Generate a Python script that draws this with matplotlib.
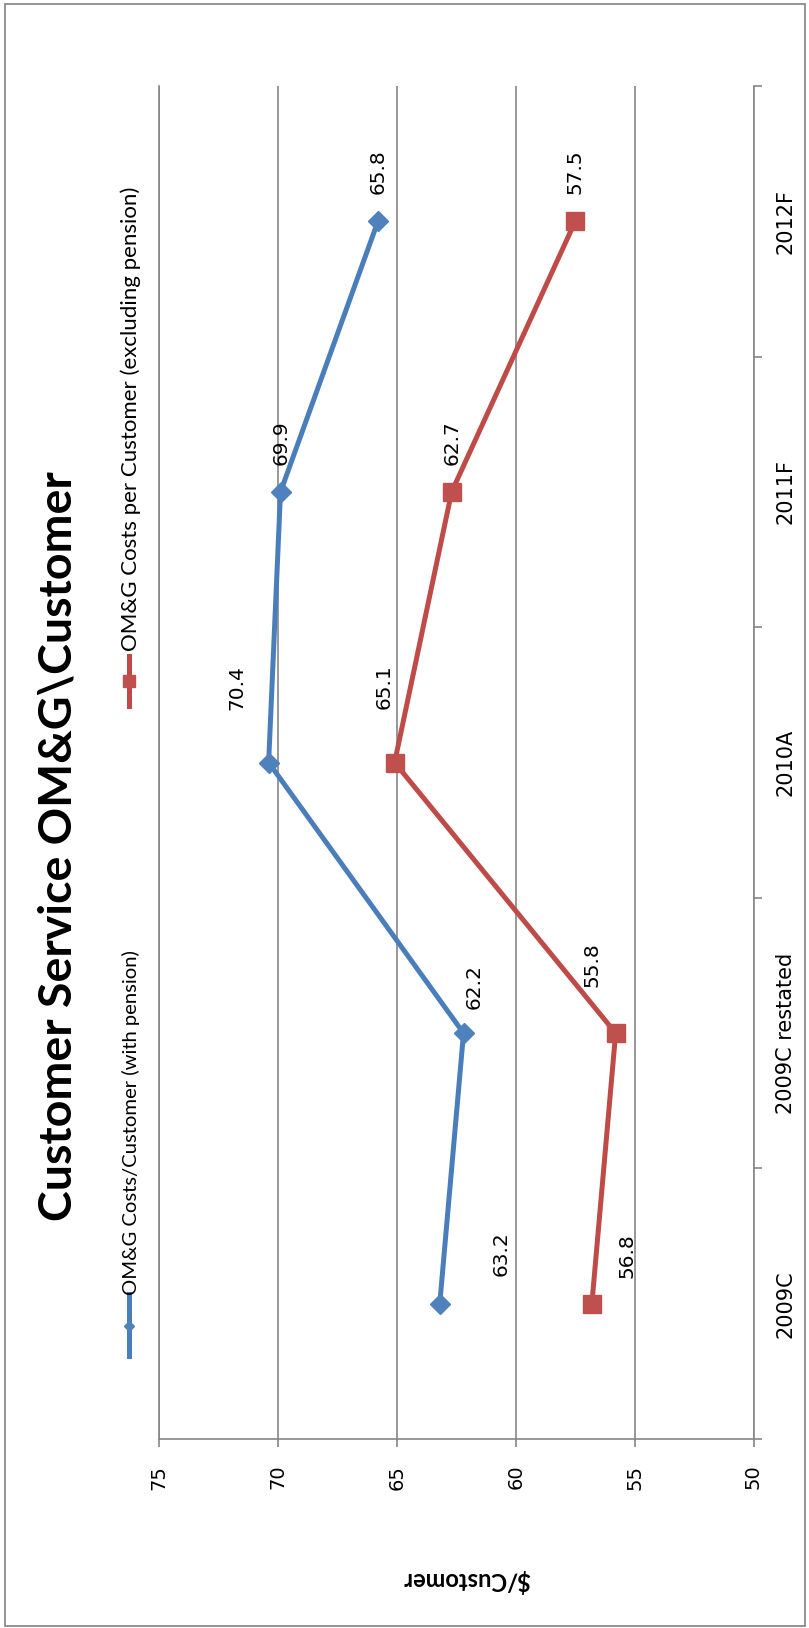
import matplotlib
matplotlib.use('Agg')
import matplotlib.pyplot as plt
from matplotlib.lines import Line2D
from matplotlib.patches import Rectangle

# picture is an Excel line chart turned on its side (values run right->left)
W, H, DPI = 809, 1628, 100

categories = ['2009C', '2009C restated', '2010A', '2011F', '2012F']
with_pension = [63.2, 62.2, 70.4, 69.9, 65.8]
excl_pension = [56.8, 55.8, 65.1, 62.7, 57.5]
value_ticks = [75, 70, 65, 60, 55, 50]

# where each data label sits relative to its marker, px (right, down)
with_offsets = [(61, -50), (11, -47), (-32, -75), (1, -49), (0, -50)]
excl_offsets = [(35, -48), (-24, -68), (-10, -76), (0, -49), (0, -50)]

BLUE_LINE, BLUE_FILL = '#4A7EBB', '#4F81BD'
RED_LINE, RED_FILL = '#BE4B48', '#C0504D'
GRID = '#868686'
CAL = ['Lato', 'DejaVu Sans']


def fx(px):
    return px / W


def fy(py):
    return 1 - py / H


fig = plt.figure(figsize=(W / DPI, H / DPI), dpi=DPI)
ax = fig.add_axes([fx(159.3), fy(1439), (753.5 - 159.3) / W, (1439 - 86) / H])

pos = list(range(len(categories)))
ax.plot(with_pension, pos, color=BLUE_LINE, lw=3.6, marker='D', ms=10,
        mfc=BLUE_FILL, mec=BLUE_FILL, zorder=3, clip_on=False)
ax.plot(excl_pension, pos, color=RED_LINE, lw=3.6, marker='s', ms=13.5,
        mfc=RED_FILL, mec=RED_FILL, zorder=3, clip_on=False)

for vals, offs in ((with_pension, with_offsets), (excl_pension, excl_offsets)):
    for i, (v, (dx, dy)) in enumerate(zip(vals, offs)):
        ax.annotate(f'{v:.1f}', (v, i), xytext=(dx, -dy), textcoords='offset pixels',
                    rotation=90, ha='center', va='center', fontsize=14.5, family='DejaVu Sans')

ax.set_xlim(75, 50)
ax.set_ylim(-0.5, len(categories) - 0.5)
ax.set_xticks(value_ticks)
ax.set_xticklabels([str(v) for v in value_ticks], family='DejaVu Sans')
ax.grid(axis='x', color=GRID, lw=1.2)
ax.set_axisbelow(True)
ax.tick_params(axis='x', direction='out', length=5.5, width=1.2, color=GRID,
               labelrotation=90, labelsize=14, pad=13)

ax.set_yticks([i - 0.5 for i in range(len(categories) + 1)])
ax.set_yticklabels([])
ax.set_yticks(pos, minor=True)
ax.set_yticklabels(categories, minor=True, rotation=90, va='center', family='DejaVu Sans')
ax.tick_params(axis='y', which='major', direction='out', length=5.5, width=1.2, color=GRID,
               left=False, right=True, labelleft=False)
ax.tick_params(axis='y', which='minor', length=0, left=False, right=True,
               labelleft=False, labelright=True, labelsize=15, pad=16)

ax.spines['top'].set_visible(False)
for s in ('left', 'right', 'bottom'):
    ax.spines[s].set_color(GRID)
    ax.spines[s].set_linewidth(1.2)

# legend, drawn by hand since it is turned too
fig.add_artist(Line2D([fx(129), fx(129)], [fy(1294), fy(1356)], color=BLUE_LINE, lw=3.6))
fig.add_artist(Line2D([fx(129)], [fy(1326)], marker='D', ms=5.5, color=BLUE_FILL))
fig.add_artist(Line2D([fx(129), fx(129)], [fy(656), fy(706)], color=RED_LINE, lw=3.6))
fig.add_artist(Line2D([fx(129)], [fy(681)], marker='s', ms=8, color=RED_FILL))

leg1 = fig.text(fx(137), fy(1295), 'OM&G Costs/Customer (with pension)', rotation=90,
                rotation_mode='anchor', ha='left', va='baseline', family=CAL, fontsize=15)
leg2 = fig.text(fx(137), fy(651), 'OM&G Costs per Customer (excluding pension)', rotation=90,
                rotation_mode='anchor', ha='left', va='baseline', family=CAL, fontsize=15)
title = fig.text(fx(72), fy(846), 'Customer Service OM&G\\Customer', rotation=90,
                 rotation_mode='anchor', ha='center', va='baseline', family=CAL,
                 weight='bold', fontsize=32)
ytitle = fig.text(fx(466), fy(1580), '$/Customer', rotation=180, rotation_mode='anchor',
                  ha='center', va='center', family=CAL, weight='bold', fontsize=14)


def fit(t, target):
    r = fig.canvas.get_renderer()
    bb = t.get_window_extent(r)
    length = bb.height if t.get_rotation() % 180 else bb.width
    t.set_fontsize(t.get_fontsize() * target / length)


fit(title, 750)
fit(leg1, 347)
fit(leg2, 464)
fit(ytitle, 129)

fig.add_artist(Rectangle((fx(5), fy(1626)), (805 - 5) / W, (1626 - 4) / H,
                         transform=fig.transFigure, fill=False, ec='#8A8A8A', lw=1.3))

fig.savefig('out.png', dpi=DPI)
